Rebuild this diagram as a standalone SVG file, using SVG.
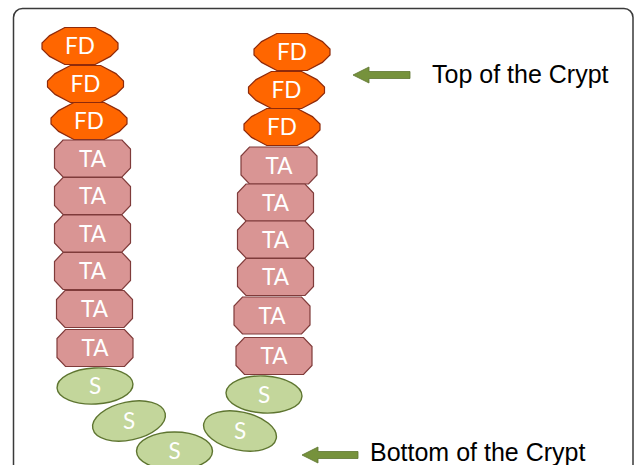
<svg xmlns="http://www.w3.org/2000/svg" width="635" height="465" viewBox="0 0 635 465">
<defs>
<style>
.fd{fill:#FF6600;stroke:#8E2A0B;stroke-width:1.2}
.ta{fill:#D99594;stroke:#7F3B3A;stroke-width:1.2}
.s{fill:#C3D69B;stroke:#5E7530;stroke-width:1.4}
.lbl{font-family:Lato,"Open Sans",sans-serif;font-size:22.5px;fill:#FFFFFF;text-anchor:middle}
.cap{font-family:"Liberation Sans",Arial,sans-serif;font-size:25px;fill:#000000}
.arrow{fill:#76923C;stroke:#5E7530;stroke-width:0.8}
</style>
<polygon id="fdShape" points="-15.2,-18.5 15.2,-18.5 30.4,-10.4 38,-3 38,3 30.4,10.4 15.2,18.5 -15.2,18.5 -30.4,10.4 -38,3 -38,-3 -30.4,-10.4"/>
<polygon id="taShape" points="-29.5,-18.5 29.5,-18.5 38,-9.5 38,9.5 29.5,18.5 -29.5,18.5 -38,9.5 -38,-9.5"/>
</defs>
<rect x="13.5" y="8.5" width="619.5" height="480" rx="9" ry="9" fill="none" stroke="#3A3A3A" stroke-width="1.5"/>

<g id="connectors">
<polygon id="arrow-top" class="arrow" points="353,75 369,67 369,71.5 410,71.5 410,78.5 369,78.5 369,83"/>
<polygon id="arrow-bottom" class="arrow" points="302,455 318,447 318,451.5 358,451.5 358,458.5 318,458.5 318,463"/>
</g>

<g id="left-fd1"><use href="#fdShape" class="fd" transform="translate(80,46)"/><text class="lbl" x="80" y="54">FD</text></g>
<g id="left-fd2"><use href="#fdShape" class="fd" transform="translate(85.5,84)"/><text class="lbl" x="85.5" y="92">FD</text></g>
<g id="left-fd3"><use href="#fdShape" class="fd" transform="translate(89,121)"/><text class="lbl" x="89" y="129">FD</text></g>

<g id="left-ta1"><use href="#taShape" class="ta" transform="translate(92.5,158.5)"/><text class="lbl" x="92.5" y="166.5">TA</text></g>
<g id="left-ta2"><use href="#taShape" class="ta" transform="translate(92.5,196)"/><text class="lbl" x="92.5" y="204">TA</text></g>
<g id="left-ta3"><use href="#taShape" class="ta" transform="translate(92.5,233.5)"/><text class="lbl" x="92.5" y="241.5">TA</text></g>
<g id="left-ta4"><use href="#taShape" class="ta" transform="translate(92.5,271)"/><text class="lbl" x="92.5" y="279">TA</text></g>
<g id="left-ta5"><use href="#taShape" class="ta" transform="translate(94.5,309)"/><text class="lbl" x="94.5" y="317">TA</text></g>
<g id="left-ta6"><use href="#taShape" class="ta" transform="translate(95,348)"/><text class="lbl" x="95" y="356">TA</text></g>

<g id="right-fd1"><use href="#fdShape" class="fd" transform="translate(292,52)"/><text class="lbl" x="292" y="60">FD</text></g>
<g id="right-fd2"><use href="#fdShape" class="fd" transform="translate(286.5,90)"/><text class="lbl" x="286.5" y="98">FD</text></g>
<g id="right-fd3"><use href="#fdShape" class="fd" transform="translate(282,127)"/><text class="lbl" x="282" y="135">FD</text></g>

<g id="right-ta1"><use href="#taShape" class="ta" transform="translate(279,165.5)"/><text class="lbl" x="279" y="173.5">TA</text></g>
<g id="right-ta2"><use href="#taShape" class="ta" transform="translate(275.5,202.5)"/><text class="lbl" x="275.5" y="210.5">TA</text></g>
<g id="right-ta3"><use href="#taShape" class="ta" transform="translate(275.5,239.5)"/><text class="lbl" x="275.5" y="247.5">TA</text></g>
<g id="right-ta4"><use href="#taShape" class="ta" transform="translate(275.5,277)"/><text class="lbl" x="275.5" y="285">TA</text></g>
<g id="right-ta5"><use href="#taShape" class="ta" transform="translate(272,315.5)"/><text class="lbl" x="272" y="323.5">TA</text></g>
<g id="right-ta6"><use href="#taShape" class="ta" transform="translate(274,356)"/><text class="lbl" x="274" y="364">TA</text></g>

<g id="left-s1"><ellipse class="s" cx="95" cy="386" rx="38" ry="18" transform="rotate(-3 95 386)"/><text class="lbl" x="95" y="394">S</text></g>
<g id="left-s2"><ellipse class="s" cx="129" cy="421" rx="37" ry="19" transform="rotate(-12 129 421)"/><text class="lbl" x="129" y="429">S</text></g>
<g id="right-s1"><ellipse class="s" cx="264" cy="394.5" rx="38" ry="18.5" transform="rotate(3 264 394.5)"/><text class="lbl" x="264" y="402.5">S</text></g>
<g id="right-s2"><ellipse class="s" cx="240" cy="431" rx="37" ry="19" transform="rotate(12 240 431)"/><text class="lbl" x="240" y="439">S</text></g>
<g id="bottom-s"><ellipse class="s" cx="174.5" cy="451" rx="38" ry="19"/><text class="lbl" x="174.5" y="459">S</text></g>

<g id="label-top"><text class="cap" x="432" y="83">Top of the Crypt</text></g>
<g id="label-bottom"><text class="cap" x="370" y="461">Bottom of the Crypt</text></g>
</svg>
